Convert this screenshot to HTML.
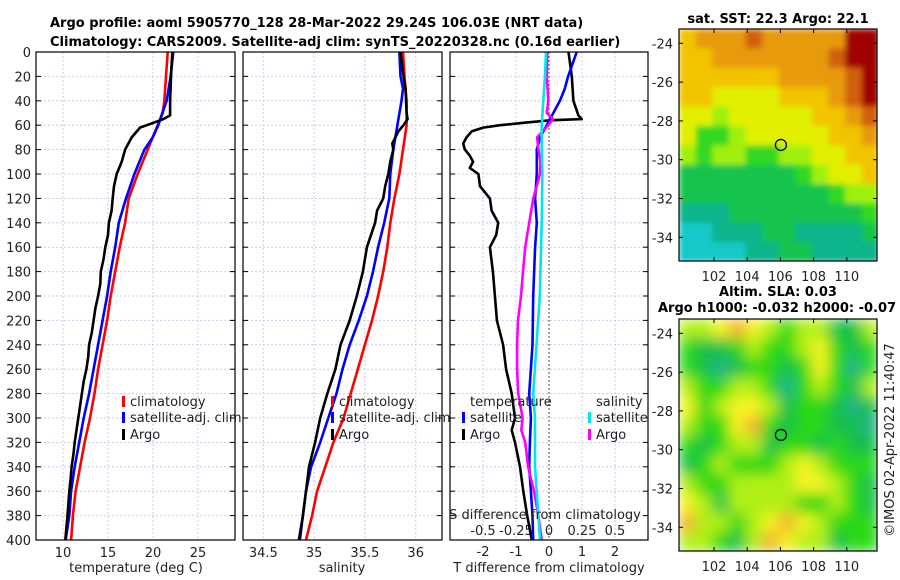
<!DOCTYPE html>
<html><head><meta charset="utf-8">
<style>
html,body{margin:0;padding:0;background:#fff;}
svg{display:block;font-family:"DejaVu Sans","Liberation Sans",sans-serif;}
.t{font-size:13px;fill:#222;}
.b{font-size:13px;font-weight:bold;fill:#000;}
</style></head>
<body>
<svg id="fig" width="900" height="580" viewBox="0 0 900 580" xmlns="http://www.w3.org/2000/svg">
<defs>
<clipPath id="c1"><rect x="36" y="52" width="199" height="488"/></clipPath>
<clipPath id="c2"><rect x="243" y="52" width="199" height="488"/></clipPath>
<clipPath id="c3"><rect x="450" y="52" width="198" height="488"/></clipPath>
<clipPath id="cm1"><rect x="679" y="29" width="198" height="232"/></clipPath>
<clipPath id="cm2"><rect x="679" y="319" width="198" height="232"/></clipPath>
<filter id="blur2" filterUnits="userSpaceOnUse" x="679" y="319" width="198" height="232"><feGaussianBlur stdDeviation="7" edgeMode="duplicate"/></filter>
<filter id="blur1" filterUnits="userSpaceOnUse" x="679" y="29" width="198" height="232"><feGaussianBlur stdDeviation="3" edgeMode="duplicate"/></filter>
</defs>
<text class="b" x="50" y="27">Argo profile: aoml 5905770_128 28-Mar-2022 29.24S 106.03E (NRT data)</text>
<text class="b" x="50" y="46">Climatology: CARS2009. Satellite-adj clim: synTS_20220328.nc (0.16d earlier)</text>
<g id="g1"></g>
<g id="g2"></g>
<g id="g3"></g>
<g id="m1"></g>
<g id="m2"></g>
<text class="t" x="136" y="572" text-anchor="middle">temperature (deg C)</text>
<text class="t" x="342" y="572" text-anchor="middle">salinity</text>
<text class="t" x="549" y="572" text-anchor="middle">T difference from climatology</text>
<text class="t" x="545" y="519" text-anchor="middle">S difference from climatology</text>
<text class="b" x="778" y="23" text-anchor="middle">sat. SST: 22.3 Argo: 22.1</text>
<text class="b" x="778" y="296" text-anchor="middle">Altim. SLA: 0.03</text>
<text class="b" x="658" y="312">Argo h1000: -0.032 h2000: -0.07</text>
<text class="t" transform="translate(894,440) rotate(-90)" text-anchor="middle">©IMOS 02-Apr-2022 11:40:47</text>
</svg>
<script>
// ---------- data ----------
const depthTicks=[0,20,40,60,80,100,120,140,160,180,200,220,240,260,280,300,320,340,360,380,400];
const tempTicks=[10,15,20,25];
const salTicks=[34.5,35,35.5,36];
const dtTicks=[-2,-1,0,1,2];
const dtTickLabels=['-2','-1','0','1','2'];
const dsTicks=[-0.5,-0.25,0,0.25,0.5];
const dsTickLabels=['-0.5','-0.25','0','0.25','0.5'];

const tClimDepth=[0,20,40,50,60,70,80,100,120,140,160,180,200,220,240,260,280,300,320,340,360,380,400];
const tClimVal=[21.63,21.44,21.26,21.08,20.52,19.97,19.41,18.3,17.3,16.9,16.3,15.8,15.3,14.9,14.4,13.9,13.5,13.0,12.4,11.9,11.4,11.1,10.9];
const tSatDepth=[0,20,40,50,60,70,80,100,120,140,160,180,200,220,240,260,280,300,320,340,360,380,400];
const tSatVal=[22.26,21.96,21.52,21.03,20.59,19.97,19.04,17.93,17.0,16.2,15.8,15.3,14.9,14.4,13.9,13.4,12.9,12.3,11.8,11.3,10.9,10.7,10.3];
const tArgoDepth=[0,20,40,52,55,58,62,70,80,90,100,110,120,130,140,150,160,170,180,190,200,210,220,230,240,250,260,270,280,290,300,310,320,330,340,350,360,380,400];
const tArgoVal=[22.15,22.0,21.9,21.9,21.15,20.04,18.56,17.63,16.9,16.52,15.97,15.67,15.52,15.4,15.1,15.0,14.7,14.5,14.2,14.15,13.9,13.6,13.4,13.2,12.9,12.8,12.6,12.3,12.1,11.9,11.7,11.5,11.3,11.15,10.96,10.85,10.7,10.5,10.25];

const sClimDepth=[0,20,40,60,80,100,120,140,160,180,200,220,240,260,280,300,320,340,360,380,400];
const sClimVal=[35.875,35.89,35.91,35.91,35.875,35.84,35.79,35.75,35.72,35.68,35.63,35.57,35.5,35.43,35.36,35.29,35.19,35.11,35.03,34.98,34.92];
const sSatDepth=[0,20,30,40,60,80,100,120,140,160,180,200,220,240,260,280,300,320,340,360,380,400];
const sSatVal=[35.84,35.85,35.875,35.86,35.82,35.78,35.75,35.74,35.69,35.63,35.58,35.52,35.44,35.35,35.28,35.22,35.14,35.06,34.97,34.92,34.89,34.86];
const sArgoDepth=[0,20,30,50,55,60,65,75,80,90,100,110,120,130,140,160,180,200,220,240,260,280,300,320,340,360,380,400];
const sArgoVal=[35.85,35.88,35.9,35.91,35.92,35.88,35.83,35.77,35.78,35.75,35.73,35.7,35.68,35.62,35.6,35.52,35.48,35.42,35.35,35.26,35.21,35.13,35.06,35.01,34.95,34.92,34.89,34.85];

const dtArgoDepth=[0,20,40,52,55,56,58,60,62,65,70,75,80,85,90,95,100,110,120,130,140,150,160,180,200,220,240,260,280,300,310,320,340,360,380,400];
const dtArgoVal=[0.59,0.69,0.74,0.89,0.99,0.03,-0.78,-1.48,-1.99,-2.34,-2.5,-2.6,-2.55,-2.4,-2.3,-2.4,-2.14,-2.09,-1.79,-1.74,-1.54,-1.6,-1.79,-1.7,-1.64,-1.58,-1.39,-1.3,-1.13,-1.03,-1.13,-1.03,-0.88,-0.78,-0.66,-0.52];
const dtSatDepth=[0,20,30,40,50,60,70,80,100,120,140,160,200,240,280,300,320,340,360,380,400];
const dtSatVal=[0.84,0.58,0.48,0.33,0.13,-0.07,-0.27,-0.37,-0.37,-0.42,-0.37,-0.42,-0.48,-0.5,-0.6,-0.55,-0.58,-0.6,-0.55,-0.5,-0.48];
const dsArgoDepth=[0,20,40,50,55,60,70,80,90,100,120,140,160,180,200,220,240,260,280,300,310,320,340,360,380,400];
const dsArgoVal=[-0.013,-0.017,-0.005,-0.017,0.03,-0.005,-0.09,-0.08,-0.065,-0.068,-0.119,-0.15,-0.18,-0.197,-0.212,-0.235,-0.242,-0.242,-0.233,-0.2,-0.21,-0.18,-0.158,-0.114,-0.08,-0.055];
const dsSatDepth=[0,20,40,60,80,100,140,200,280,300,340,360,380,400];
const dsSatVal=[-0.023,-0.03,-0.043,-0.055,-0.055,-0.05,-0.055,-0.07,-0.12,-0.106,-0.106,-0.093,-0.08,-0.068];

const mapLonTicks=[102,104,106,108,110];
const mapLatTicks=[-24,-26,-28,-30,-32,-34];
const argoLon=106.03, argoLat=-29.24;
const sstGrid=[
[7,8,8,8,9,8,8,8,8,8,10,10],
[7,7,8,8,8,8,8,8,8,9,10,10],
[7,7,7,7,7,7,8,8,8,8,9,10],
[7,7,6,6,6,6,7,7,7,8,9,10],
[6,6,5,6,6,6,6,6,7,7,8,9],
[6,4,4,5,6,6,6,6,6,7,7,8],
[5,4,5,5,4,4,5,5,6,6,7,7],
[3,3,3,3,3,3,3,4,5,6,6,7],
[3,3,3,3,3,3,3,3,3,4,5,5],
[2,2,2,3,3,3,3,3,3,3,3,4],
[1,1,2,2,2,3,3,2,2,2,2,3],
[1,1,1,1,2,2,3,3,2,2,2,2]];
const slaGrid=[
[3,3,4,5,4,3,2,3,3,1,1,3],
[2,1,1,2,3,2,2,3,4,2,1,2],
[2,1,0,1,2,2,1,2,4,2,0,2],
[3,2,2,3,3,2,0,2,3,2,1,3],
[4,2,3,4,4,3,1,2,2,1,0,1],
[3,2,2,4,5,2,1,2,2,1,1,0],
[2,1,2,3,3,1,2,2,1,2,1,1],
[1,2,3,2,2,2,3,4,3,2,2,2],
[3,2,2,3,3,3,3,4,4,3,2,1],
[4,3,1,3,3,3,3,2,2,3,2,1],
[5,3,3,2,3,4,5,4,3,2,2,2],
[3,3,2,1,3,5,4,3,3,1,2,2]];

// ---------- scales ----------
const NS='http://www.w3.org/2000/svg';
function mk(tag,attrs,parent){const e=document.createElementNS(NS,tag);for(const k in attrs)e.setAttribute(k,attrs[k]);parent.appendChild(e);return e;}
const Y=d=>52+d*1.22;
const X1=t=>63+(t-10)*9;
const X2=s=>263.3+(s-34.5)*101.6;
const X3t=v=>549+v*33;
const X3s=v=>549+v*132;
const MX=lon=>680.8+(lon-100)*16.6;
const MY1=lat=>43.3+(-24-lat)*19.4;
const MY2=lat=>333.3+(-24-lat)*19.4;

function panel(g,x0,w,vTicks,xs,clip,name){
  for(const d of depthTicks){
    const l=mk('line',{x1:x0,x2:x0+w,y1:Y(d),y2:Y(d),stroke:'#c5cdea','stroke-width':1,'stroke-dasharray':'2,2'},g);
    
    
    const t1=mk('line',{x1:x0,x2:x0+5,y1:Y(d),y2:Y(d),stroke:'#000'},g);
    
    
    const t2=mk('line',{x1:x0+w-5,x2:x0+w,y1:Y(d),y2:Y(d),stroke:'#000'},g);
    
    
  }
  for(const v of vTicks){
    const l=mk('line',{x1:xs(v),x2:xs(v),y1:52,y2:540,stroke:'#c5cdea','stroke-width':1,'stroke-dasharray':'2,2'},g);
    
    
  }
}
function frame(g,x0,y0,w,h,name){
  const r=mk('rect',{x:x0,y:y0,width:w,height:h,fill:'none',stroke:'#000','stroke-width':1.2},g);
  
  
}
function line(g,depths,vals,xs,color,clip,name,sw){
  let dstr='';
  for(let i=0;i<depths.length;i++){dstr+=(i?'L':'M')+xs(vals[i]).toFixed(1)+','+Y(depths[i]).toFixed(1);}
  const p=mk('path',{d:dstr,fill:'none',stroke:color,'stroke-width':sw||2.6,'stroke-linejoin':'round','clip-path':'url(#'+clip+')'},g);
  
  
}
function txt(g,x,y,s,anchor,name){
  const t=mk('text',{x:x,y:y,'class':'t','text-anchor':anchor||'start'},g);
  t.textContent=s;
  
  
  return t;
}
function legMark(g,x,y,color,name){
  const r=mk('rect',{x:x,y:y-11,width:3,height:11,fill:color},g);
  
  
}

// ---------- panel 1 ----------
const g1=document.getElementById('g1');
panel(g1,36,199,tempTicks,X1,'c1','temperature');
for(const d of depthTicks){txt(g1,31,Y(d)+5,String(d),'end','depth-tick-label');}
for(const v of tempTicks){txt(g1,X1(v),557,String(v),'middle','temperature-tick-label');}
line(g1,tClimDepth,tClimVal,X1,'#ff0000','c1','temperature-climatology-line');
line(g1,tSatDepth,tSatVal,X1,'#0000ff','c1','temperature-satellite-line');
line(g1,tArgoDepth,tArgoVal,X1,'#000000','c1','temperature-argo-line');
legMark(g1,122,407,'#ff0000','legend-climatology-swatch');txt(g1,130,406,'climatology','start','legend-climatology');
legMark(g1,122,423,'#0000ff','legend-satellite-swatch');txt(g1,130,422,'satellite-adj. clim','start','legend-satellite-adj-clim');
legMark(g1,122,440,'#000000','legend-argo-swatch');txt(g1,130,439,'Argo','start','legend-argo');
frame(g1,36,52,199,488,'temperature-panel');

// ---------- panel 2 ----------
const g2=document.getElementById('g2');
panel(g2,243,199,salTicks,X2,'c2','salinity');
for(const v of salTicks){txt(g2,X2(v),557,String(v),'middle','salinity-tick-label');}
line(g2,sClimDepth,sClimVal,X2,'#ff0000','c2','salinity-climatology-line');
line(g2,sSatDepth,sSatVal,X2,'#0000ff','c2','salinity-satellite-line');
line(g2,sArgoDepth,sArgoVal,X2,'#000000','c2','salinity-argo-line');
legMark(g2,331,407,'#ff0000','legend-climatology-swatch');txt(g2,339,406,'climatology','start','legend-climatology');
legMark(g2,331,423,'#0000ff','legend-satellite-swatch');txt(g2,339,422,'satellite-adj. clim','start','legend-satellite-adj-clim');
legMark(g2,331,440,'#000000','legend-argo-swatch');txt(g2,339,439,'Argo','start','legend-argo');
frame(g2,243,52,199,488,'salinity-panel');

// ---------- panel 3 ----------
const g3=document.getElementById('g3');
panel(g3,450,198,dtTicks,X3t,'c3','difference');
const zl=mk('line',{x1:X3t(0),x2:X3t(0),y1:52,y2:540,stroke:'#555533','stroke-width':1.2,'stroke-dasharray':'1.5,2.5'},g3);


for(let i=0;i<dtTicks.length;i++){txt(g3,X3t(dtTicks[i]),556,dtTickLabels[i],'middle','t-difference-tick-label');}
for(let i=0;i<dsTicks.length;i++){txt(g3,X3s(dsTicks[i]),535,dsTickLabels[i],'middle','s-difference-tick-label');}
line(g3,dtArgoDepth,dtArgoVal,X3t,'#000000','c3','t-difference-argo-line');
line(g3,dtSatDepth,dtSatVal,X3t,'#0000ff','c3','t-difference-satellite-line');
line(g3,dsArgoDepth,dsArgoVal,X3s,'#ff00ff','c3','s-difference-argo-line');
line(g3,dsSatDepth,dsSatVal,X3s,'#00e5ee','c3','s-difference-satellite-line');
txt(g3,470,406,'temperature','start','legend-temperature-header');
legMark(g3,462,423,'#0000ff','legend-t-satellite-swatch');txt(g3,470,422,'satellite','start','legend-t-satellite');
legMark(g3,462,440,'#000000','legend-t-argo-swatch');txt(g3,470,439,'Argo','start','legend-t-argo');
txt(g3,596,406,'salinity','start','legend-salinity-header');
legMark(g3,588,423,'#00e5ee','legend-s-satellite-swatch');txt(g3,596,422,'satellite','start','legend-s-satellite');
legMark(g3,588,440,'#ff00ff','legend-s-argo-swatch');txt(g3,596,439,'Argo','start','legend-s-argo');
frame(g3,450,52,198,488,'difference-panel');

// ---------- maps ----------
const sstCols=['#19b4e6','#14c8c8','#10b48c','#12c44e','#30d820','#a0f010','#e2f000','#f2c400','#e89a08','#d06010','#a00000'];
const slaCols=['#22b488','#18c04a','#2ad818','#b0f018','#f4f420','#f2b030'];
function drawMap(gid,grid,cols,MY,yTop,clip,filt,name,tickLabY){
  const g=document.getElementById(gid);
  const cg=mk('g',{'clip-path':'url(#'+clip+')'},g);
  
  
  const fg=mk('g',{filter:'url(#'+filt+')'},cg);
  
  
  for(let r=0;r<grid.length;r++){for(let c=0;c<grid[r].length;c++){
    const lat0=-23.26-r, lon0=99.9+c;
    const x=MX(lon0), y=MY(lat0);
    const cell=mk('rect',{x:x,y:y,width:16.9,height:19.7,fill:cols[grid[r][c]]},fg);
    
    
  }}
  const circ=mk('circle',{cx:MX(argoLon),cy:MY(argoLat),r:5.5,fill:'none',stroke:'#000','stroke-width':1.3},g);
  
  
  for(const lat of mapLatTicks){
    txt(g,673,MY(lat)+5,String(lat),'end',name+'-lat-label');
    const t1=mk('line',{x1:679,x2:683,y1:MY(lat),y2:MY(lat),stroke:'#000'},g);
    
    
    const t2=mk('line',{x1:873,x2:877,y1:MY(lat),y2:MY(lat),stroke:'#000'},g);
    
    
  }
  for(const lon of mapLonTicks){
    txt(g,MX(lon),tickLabY,String(lon),'middle',name+'-lon-label');
    const t1=mk('line',{x1:MX(lon),x2:MX(lon),y1:yTop,y2:yTop+4,stroke:'#000'},g);
    
    
    const t2=mk('line',{x1:MX(lon),x2:MX(lon),y1:yTop+228,y2:yTop+232,stroke:'#000'},g);
    
    
  }
  frame(g,679,yTop,198,232,name);
}
drawMap('m1',sstGrid,sstCols,MY1,29,'cm1','blur1','sst-map',281);
drawMap('m2',slaGrid,slaCols,MY2,319,'cm2','blur2','sla-map',571);
</script>
</body></html>
